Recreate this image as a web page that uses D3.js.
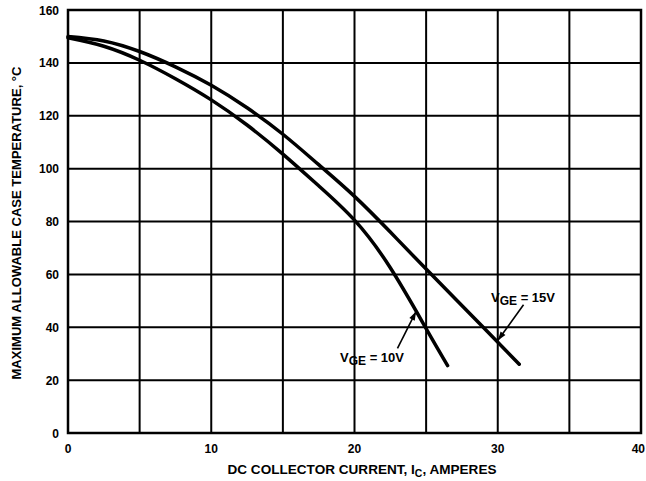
<!DOCTYPE html>
<html><head><meta charset="utf-8">
<script src="https://cdn.jsdelivr.net/npm/d3@7"></script>
<style>body{margin:0;background:#fff}svg{display:block}text{font-family:"Liberation Sans",Arial,sans-serif;font-weight:bold;fill:#000}</style>
</head><body><svg id="c" width="646" height="481"></svg>
<script>
const xTicks = [0, 10, 20, 30, 40];
const yTicks = [0, 20, 40, 60, 80, 100, 120, 140, 160];
const xGrid = [5, 10, 15, 20, 25, 30, 35];
const vge15I = [0, 2.5, 5, 7.5, 10, 12.5, 15, 17.5, 20, 22.5, 25, 28.9, 31.5];
const vge15T = [150, 148.3, 144.3, 138.5, 131.5, 123, 113, 101.5, 89.5, 76, 62, 40.5, 26];
const vge10I = [0, 2.5, 5, 7.5, 10, 12.5, 15, 17.5, 20, 22.5, 25, 26.5];
const vge10T = [149.5, 146.3, 141, 134, 126, 116.5, 105.5, 93.5, 80.5, 62.5, 39.5, 25.5];
const labels = [
  {name: "10V", tx: 340, ty: 362, ax0: 23.0, at0: 32, ax1: 24.3, at1: 46},
  {name: "15V", tx: 491, ty: 302, ax0: 31.8, at0: 48.5, ax1: 30.0, at1: 35}
];

const svg = d3.select("#c");
const x = d3.scaleLinear().domain([0, 40]).range([68, 641]);
const y = d3.scaleLinear().domain([0, 160]).range([433, 10]);

// grid
svg.append("g").selectAll("line").data(xGrid).join("line")
  .attr("x1", d => x(d)).attr("x2", d => x(d)).attr("y1", y(0)).attr("y2", y(160))
  .attr("stroke", "#000").attr("stroke-width", 2);
svg.append("g").selectAll("line").data(yTicks.filter(d => d > 0 && d < 160)).join("line")
  .attr("y1", d => y(d)).attr("y2", d => y(d)).attr("x1", x(0)).attr("x2", x(40))
  .attr("stroke", "#000").attr("stroke-width", 2);
svg.append("rect").attr("x", x(0)).attr("y", y(160)).attr("width", x(40) - x(0)).attr("height", y(0) - y(160))
  .attr("fill", "none").attr("stroke", "#000").attr("stroke-width", 2.5);

// tick labels
svg.append("g").selectAll("text").data(yTicks).join("text")
  .attr("x", 59).attr("y", d => y(d) + 4.5).attr("text-anchor", "end")
  .attr("font-size", 12).text(d => d);
svg.append("g").selectAll("text").data(xTicks).join("text")
  .attr("x", d => d === 40 ? 645 : x(d)).attr("y", 453)
  .attr("text-anchor", d => d === 40 ? "end" : "middle")
  .attr("font-size", 12).text(d => d);

// axis titles
const xt = svg.append("text").attr("x", 362).attr("y", 474).attr("text-anchor", "middle")
  .attr("font-size", 13).attr("textLength", 269).attr("lengthAdjust", "spacingAndGlyphs");
xt.append("tspan").text("DC COLLECTOR CURRENT, I");
xt.append("tspan").attr("font-size", 10).attr("dy", 3).text("C");
xt.append("tspan").attr("dy", -3).text(", AMPERES");
svg.append("text").attr("transform", "translate(20.5,223) rotate(-90)").attr("text-anchor", "middle")
  .attr("font-size", 12).attr("textLength", 313).attr("lengthAdjust", "spacingAndGlyphs")
  .text("MAXIMUM ALLOWABLE CASE TEMPERATURE, °C");

// curves
const line = d3.line().x(d => x(d[0])).y(d => y(d[1])).curve(d3.curveNatural);
[[vge15I, vge15T], [vge10I, vge10T]].forEach(([I, T]) => {
  svg.append("path").datum(I.map((v, i) => [v, T[i]])).attr("d", line)
    .attr("fill", "none").attr("stroke", "#000").attr("stroke-width", 3.5).attr("stroke-linecap", "round");
});

// labels with arrows
labels.forEach(l => {
  const t = svg.append("text").attr("x", l.tx).attr("y", l.ty).attr("font-size", 13);
  t.append("tspan").text("V");
  t.append("tspan").attr("dy", 3).attr("font-size", 12).text("GE");
  t.append("tspan").attr("dy", -3).text(" = " + l.name);
  const x0 = x(l.ax0), y0 = y(l.at0), x1 = x(l.ax1), y1 = y(l.at1);
  svg.append("line").attr("x1", x0).attr("y1", y0).attr("x2", x1).attr("y2", y1)
    .attr("stroke", "#000").attr("stroke-width", 1.6);
  const ang = Math.atan2(y1 - y0, x1 - x0);
  const L = 9, W = 3;
  const bx = x1 - L * Math.cos(ang), by = y1 - L * Math.sin(ang);
  const px = -Math.sin(ang) * W, py = Math.cos(ang) * W;
  svg.append("path").attr("d", `M${x1},${y1}L${bx + px},${by + py}L${bx - px},${by - py}Z`).attr("fill", "#000");
});
</script></body></html>
